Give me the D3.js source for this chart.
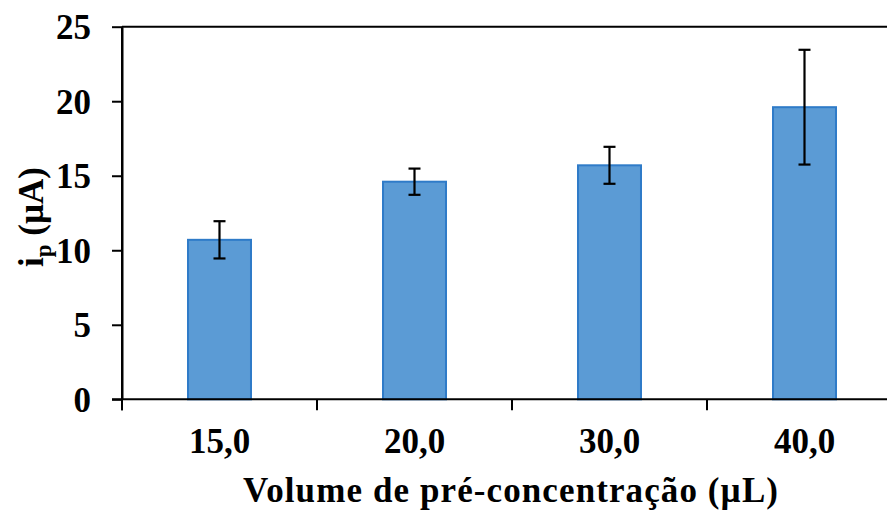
<!DOCTYPE html>
<html>
<head>
<meta charset="utf-8">
<script src="https://cdn.jsdelivr.net/npm/d3@7"></script>
<style>
  html, body { margin: 0; padding: 0; background: #fff; }
  svg { display: block; }
  text { font-family: "Liberation Serif", "Times New Roman", serif; font-weight: bold; fill: #000; }
</style>
</head>
<body>
<svg id="chart" width="887" height="511"></svg>
<script>
// Peak current vs. pre-concentration volume
const categories = ["15,0", "20,0", "30,0", "40,0"];
const peakCurrent = [10.7, 14.6, 15.7, 19.6];
const errorValues = [1.25, 0.88, 1.24, 3.85];
const yTicks = [0, 5, 10, 15, 20, 25];

const svg = d3.select("#chart");
const plotLeft = 122, plotRight = 902, plotTop = 26.7, plotBottom = 399.3;

const x = d3.scaleBand()
  .domain(categories)
  .range([plotLeft, plotRight])
  .paddingInner(0.677)
  .paddingOuter(0.3385);

const y = d3.scaleLinear().domain([0, 25]).range([plotBottom, plotTop]);

// top frame line
svg.append("line")
  .attr("x1", plotLeft).attr("x2", plotRight)
  .attr("y1", y(25)).attr("y2", y(25))
  .attr("stroke", "#000").attr("stroke-width", 2);

// bars
svg.append("g").selectAll("rect")
  .data(categories)
  .join("rect")
  .attr("x", d => x(d))
  .attr("width", x.bandwidth())
  .attr("y", (d, i) => y(peakCurrent[i]))
  .attr("height", (d, i) => y(0) - y(peakCurrent[i]))
  .attr("fill", "#5B9BD5")
  .attr("stroke", "#2F7BC8")
  .attr("stroke-width", 2);

// error bars
const capHalf = 6;
const eb = svg.append("g").attr("stroke", "#000").attr("stroke-width", 2.2);
categories.forEach((c, i) => {
  const cx = x(c) + x.bandwidth() / 2;
  const hi = y(peakCurrent[i] + errorValues[i]);
  const lo = y(peakCurrent[i] - errorValues[i]);
  eb.append("line").attr("x1", cx).attr("x2", cx).attr("y1", hi).attr("y2", lo);
  eb.append("line").attr("x1", cx - capHalf).attr("x2", cx + capHalf).attr("y1", hi).attr("y2", hi);
  eb.append("line").attr("x1", cx - capHalf).attr("x2", cx + capHalf).attr("y1", lo).attr("y2", lo);
});

// y axis
const yAxis = svg.append("g")
  .attr("transform", `translate(${plotLeft},0)`)
  .call(d3.axisLeft(y).tickValues(yTicks).tickSize(10).tickPadding(21).tickSizeOuter(0));
yAxis.select(".domain").attr("stroke-width", 2);
yAxis.selectAll(".tick line").attr("stroke-width", 2);
yAxis.selectAll(".tick text").style("font-size", "35px").attr("dy", "0.34em");

// x axis: ticks at category boundaries
const step = x.step();
const boundaries = d3.range(categories.length + 1).map(i => plotLeft + i * step);
svg.append("line")
  .attr("x1", plotLeft - 10).attr("x2", plotRight)
  .attr("y1", plotBottom).attr("y2", plotBottom)
  .attr("stroke", "#000").attr("stroke-width", 2);
svg.append("line")
  .attr("x1", plotLeft).attr("x2", plotLeft)
  .attr("y1", plotTop).attr("y2", plotBottom + 11)
  .attr("stroke", "#000").attr("stroke-width", 2);
svg.append("g").selectAll("line")
  .data(boundaries)
  .join("line")
  .attr("x1", d => d).attr("x2", d => d)
  .attr("y1", plotBottom).attr("y2", plotBottom + 11)
  .attr("stroke", "#000").attr("stroke-width", 2);

svg.append("g").selectAll("text")
  .data(categories)
  .join("text")
  .attr("x", d => x(d) + x.bandwidth() / 2)
  .attr("y", 453)
  .attr("text-anchor", "middle")
  .style("font-size", "35px")
  .text(d => d);

// axis titles
svg.append("text")
  .attr("x", 510.5).attr("y", 502)
  .attr("text-anchor", "middle")
  .attr("textLength", 535)
  .attr("lengthAdjust", "spacing")
  .style("font-size", "35px")
  .text("Volume de pré-concentração  (µL)");

const yt = svg.append("text")
  .attr("transform", "translate(43,217) rotate(-90)")
  .attr("text-anchor", "middle")
  .style("font-size", "35px");
yt.append("tspan").text("i");
yt.append("tspan").attr("dy", 8).style("font-size", "23px").text("p");
yt.append("tspan").attr("dy", -8).text(" (µA)");
</script>
</body>
</html>
